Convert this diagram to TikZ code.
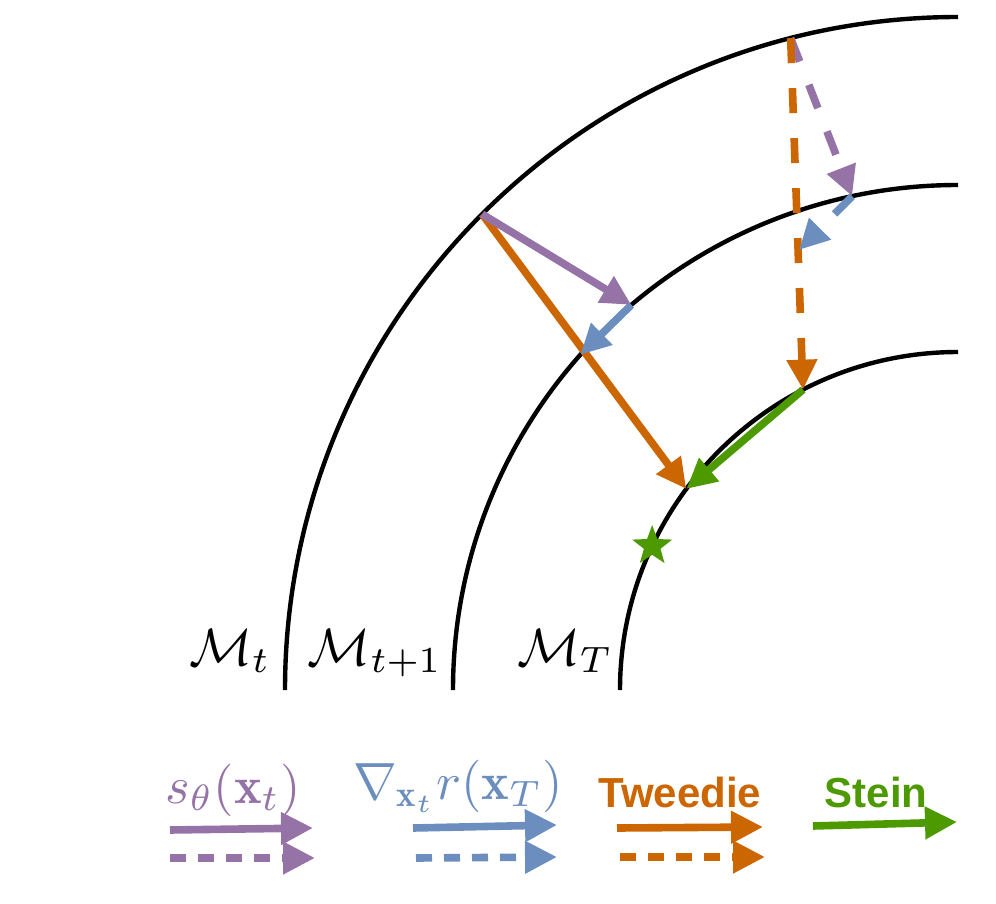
\documentclass[tikz,border=0pt]{standalone}
\usepackage{graphicx}
\usepackage{fontspec}
\newfontfamily\legendfont{Liberation Sans}
\usetikzlibrary{arrows.meta,shapes.geometric,calc}
\definecolor{cpurple}{HTML}{9673A6}
\definecolor{cblue}{HTML}{6C8EBF}
\definecolor{corange}{HTML}{CC6600}
\definecolor{cgreen}{HTML}{4D9900}
\newcommand{\bigmath}[1]{\scalebox{2.62}{$#1$}}
\begin{document}
\begin{tikzpicture}[x=0.5pt,y=-0.5pt,
  manifold/.style={line width=2.2pt, black},
  vec/.style={line width=3.8pt, -{Triangle[length=15pt,width=14.5pt]}},
  dvec/.style={vec, dash pattern=on 12.5pt off 12.5pt},
  key/.style={line width=3.8pt, -{Triangle[length=16pt,width=15.5pt]}},
  dkey/.style={key, dash pattern=on 8pt off 6pt},
  mlabel/.style={inner sep=0pt, anchor=base},
  keymath/.style={inner sep=0pt},
  keytext/.style={font=\legendfont\bfseries\fontsize{21}{25}\selectfont, inner sep=0pt},
  goal/.style={star, star points=5, star point ratio=2.4, fill=cgreen, draw=none, inner sep=0pt, minimum size=21pt}
]
\useasboundingbox (0,0) rectangle (996,904);

% centre of the manifolds
\coordinate (O) at (958,690);

% manifolds
\draw[manifold] ($(O)+(-673,0)$) arc[start angle=180, end angle=270, radius=673];
\draw[manifold] ($(O)+(-505,0)$) arc[start angle=180, end angle=270, radius=505];
\draw[manifold] ($(O)+(-338,0)$) arc[start angle=180, end angle=270, radius=338];

% points
\coordinate (A) at ($(O)+(225:673)$);
\coordinate (B) at ($(O)+(229.7:505)$);
\coordinate (C) at ($(O)+(221.6:505)$);
\coordinate (D) at ($(O)+(216.5:338)$);
\coordinate (E) at ($(O)+(255.6:673)$);
\coordinate (F) at ($(O)+(257.9:505)$);
\coordinate (G) at (799,250);
\coordinate (H) at ($(O)+(242.7:338)$);

% labels
\node[mlabel] (Mt) at (230,665) {\bigmath{\mathcal{M}_t}};
\node[mlabel] (Mt1) at (375,665) {\bigmath{\mathcal{M}_{t+1}}};
\node[mlabel] (MT) at (565,665) {\bigmath{\mathcal{M}_T}};

% solid path
\draw[vec, corange] (A) -- (D);
\draw[vec, cpurple] (A) -- (B);
\draw[vec, cblue] (B) -- (C);

% dashed path
\draw[dvec, cpurple] (E) -- (F);
\draw[dvec, corange] (E) -- (H);
\draw[dvec, cblue] (F) -- (G);

% Stein
\draw[vec, cgreen] (H) -- (D);
\node[goal] (star) at ($(O)+(205.2:338)$) {};

% legend
\node[keymath, text=cpurple] (k1) at (233,790) {\bigmath{s_\theta(\mathbf{x}_t)}};
\node[keymath, text=cblue] (k2) at (458,786) {\bigmath{\nabla_{\mathbf{x}_t} r(\mathbf{x}_T)}};
\node[keytext, text=corange] (k3) at (680,792) {Tweedie};
\node[keytext, text=cgreen] (k4) at (876,792) {Stein};

\coordinate (p1s) at (170,830); \coordinate (p1e) at (313,828);
\coordinate (p2s) at (170,858); \coordinate (p2e) at (315,858);
\coordinate (b1s) at (413,828); \coordinate (b1e) at (557,825);
\coordinate (b2s) at (416,858); \coordinate (b2e) at (557,857);
\coordinate (o1s) at (617,828); \coordinate (o1e) at (763,827);
\coordinate (o2s) at (620,857); \coordinate (o2e) at (765,857);
\coordinate (g1s) at (813,826); \coordinate (g1e) at (957,822);

\draw[key, cpurple] (p1s) -- (p1e);
\draw[dkey, cpurple] (p2s) -- (p2e);
\draw[key, cblue] (b1s) -- (b1e);
\draw[dkey, cblue] (b2s) -- (b2e);
\draw[key, corange] (o1s) -- (o1e);
\draw[dkey, corange] (o2s) -- (o2e);
\draw[key, cgreen] (g1s) -- (g1e);
\end{tikzpicture}
\end{document}
